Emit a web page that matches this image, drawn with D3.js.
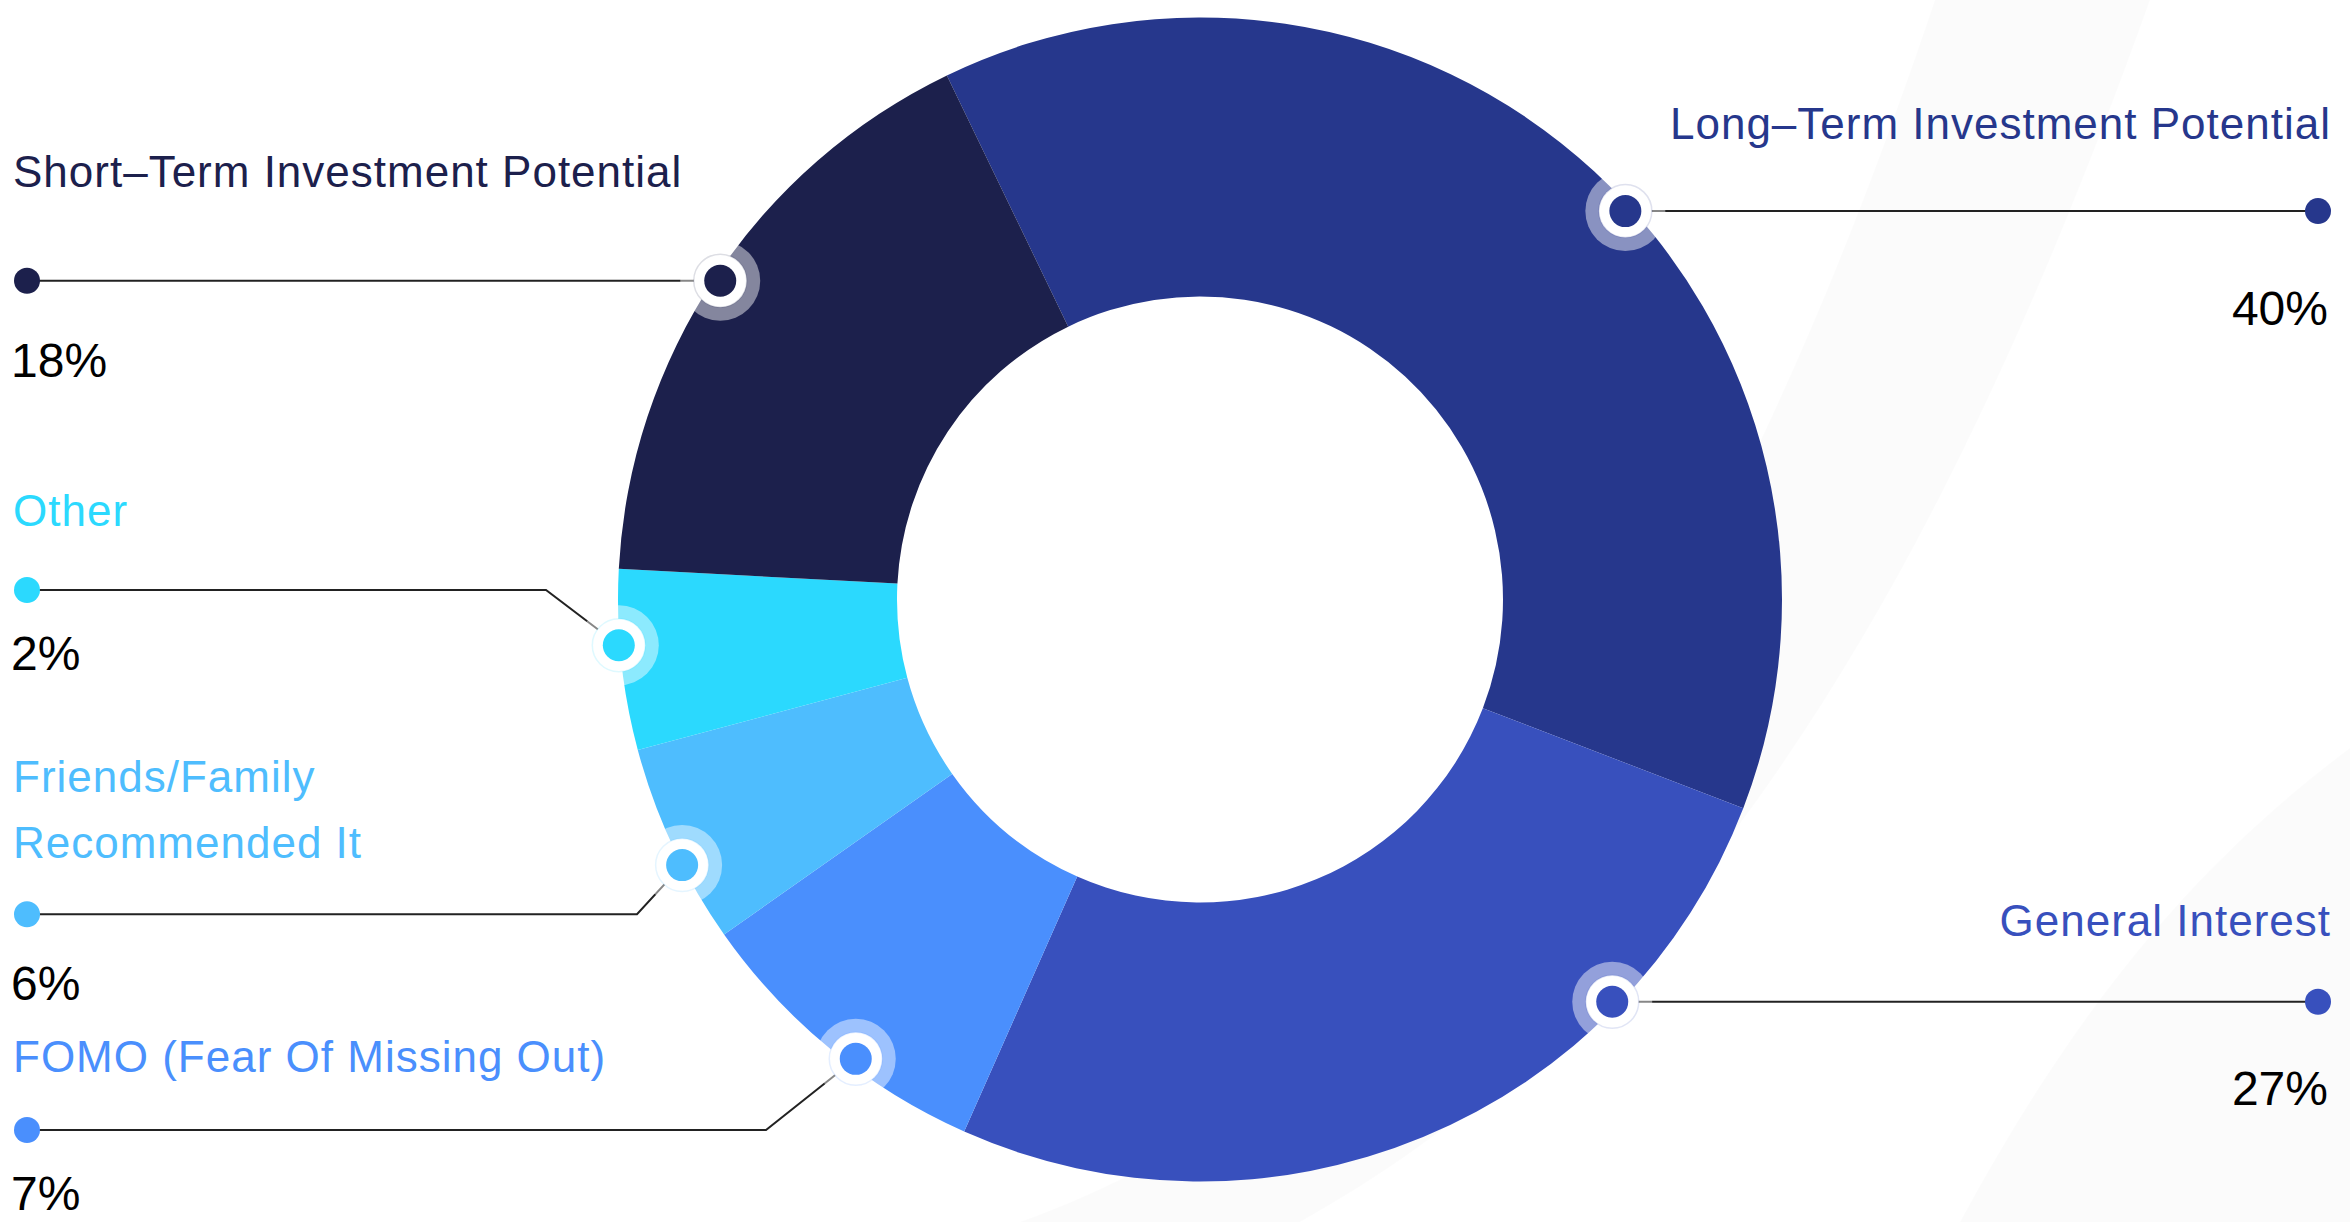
<!DOCTYPE html>
<html>
<head>
<meta charset="utf-8">
<script src="https://cdn.jsdelivr.net/npm/d3@7"></script>
<style>
  html, body { margin: 0; padding: 0; background: #fff; }
  svg { display: block; }
</style>
</head>
<body>
<div id="chart"></div>
<script>
// slices in drawing order, clockwise from the top boundary
const categories = [
  "Long\u2013Term Investment Potential",
  "General Interest",
  "FOMO (Fear Of Missing Out)",
  "Friends/Family\nRecommended It",
  "Other",
  "Short\u2013Term Investment Potential"
];
const sliceValues = [38.0, 25.8, 8.6, 5.6, 5.0, 17.0];
// percentages printed next to each label
const percentLabels = ["40%", "27%", "7%", "6%", "2%", "18%"];
const colors = ["#26378c", "#3850bd", "#4a8ffd", "#4ebdfe", "#2bd9fe", "#1c204c"];

const width = 2350;
const height = 1222;
const cx = 1200;
const cy = 599.5;
const outerR = 582;
const innerR = 303;
const startAngle = (-25.78 * Math.PI) / 180;

// callout layout: marker angle on the rim (deg), leader row, elbow, text rows
const callouts = [
  { side: "right", angle: 47.6, r: 576, labelY: [139], pctY: 325 },
  { side: "right", angle: 134.3, r: 576, labelY: [936], pctY: 1105 },
  { side: "left", angle: 216.85, r: 574, lineY: 1130, elbowX: 766, labelY: [1071.7], pctY: 1210 },
  { side: "left", angle: 242.85, r: 582, lineY: 914.3, elbowX: 637, labelY: [791.7, 858.3], pctY: 1000 },
  { side: "left", angle: 265.5, r: 583, lineY: 590, elbowX: 546, labelY: [525.7], pctY: 670 },
  { side: "left", angle: 303.6, r: 576, labelY: [187.3], pctY: 376.7 }
];

const leftX = 13;
const rightX = 2331;
const leftDotX = 27;
const rightDotX = 2318;

const svg = d3
  .select("#chart")
  .append("svg")
  .attr("width", width)
  .attr("height", height)
  .style("font-family", "'Liberation Sans', Arial, sans-serif");

// faint background swooshes
svg
  .append("path")
  .attr("d", "M1020,1222 C1500,1050 1760,520 1935,0 L2150,0 C1950,560 1700,1000 1300,1222 Z")
  .attr("fill", "#000")
  .attr("opacity", 0.016);
svg
  .append("path")
  .attr("d", "M1960,1222 C2080,1000 2200,860 2350,748 L2350,1222 Z")
  .attr("fill", "#000")
  .attr("opacity", 0.016);

const pie = d3
  .pie()
  .sort(null)
  .value(d => d)
  .startAngle(startAngle)
  .endAngle(startAngle + 2 * Math.PI);

const arc = d3.arc().innerRadius(innerR).outerRadius(outerR);

const donut = svg.append("g").attr("transform", `translate(${cx}, ${cy})`);

donut
  .selectAll("path")
  .data(pie(sliceValues))
  .enter()
  .append("path")
  .attr("d", arc)
  .attr("fill", (d, i) => colors[i]);

const rad = deg => (deg * Math.PI) / 180;

callouts.forEach((c, i) => {
  const mx = cx + c.r * Math.sin(rad(c.angle));
  const my = cy - c.r * Math.cos(rad(c.angle));
  const lineY = c.lineY == null ? my : c.lineY;
  const dotX = c.side === "left" ? leftDotX : rightDotX;

  // leader line
  const pts = [[dotX, lineY]];
  if (c.elbowX != null) pts.push([c.elbowX, lineY]);
  pts.push([mx, my]);
  svg
    .append("path")
    .attr("d", d3.line()(pts))
    .attr("fill", "none")
    .attr("stroke", "#222")
    .attr("stroke-width", 2);

  svg
    .append("circle")
    .attr("cx", dotX)
    .attr("cy", lineY)
    .attr("r", 13)
    .attr("fill", colors[i]);

  // marker on the rim
  const m = svg.append("g").attr("transform", `translate(${mx}, ${my})`);
  m.append("circle").attr("r", 40).attr("fill", "#fff").attr("opacity", 0.46);
  m.append("circle")
    .attr("r", 26.5)
    .attr("fill", "#fff")
    .attr("stroke", colors[i])
    .attr("stroke-opacity", 0.15)
    .attr("stroke-width", 1.5);
  m.append("circle").attr("r", 16).attr("fill", colors[i]);

  // texts
  const anchor = c.side === "left" ? "start" : "end";
  const tx = c.side === "left" ? leftX : rightX;
  categories[i].split("\n").forEach((line, j) => {
    svg
      .append("text")
      .attr("x", tx)
      .attr("y", c.labelY[j])
      .attr("text-anchor", anchor)
      .attr("fill", colors[i])
      .style("font-size", "44px")
      .style("letter-spacing", "1px")
      .text(line);
  });

  svg
    .append("text")
    .attr("x", c.side === "left" ? 11 : 2328)
    .attr("y", c.pctY)
    .attr("text-anchor", anchor)
    .attr("fill", "#000")
    .style("font-size", "48px")
    .text(percentLabels[i]);
});
</script>
</body>
</html>
